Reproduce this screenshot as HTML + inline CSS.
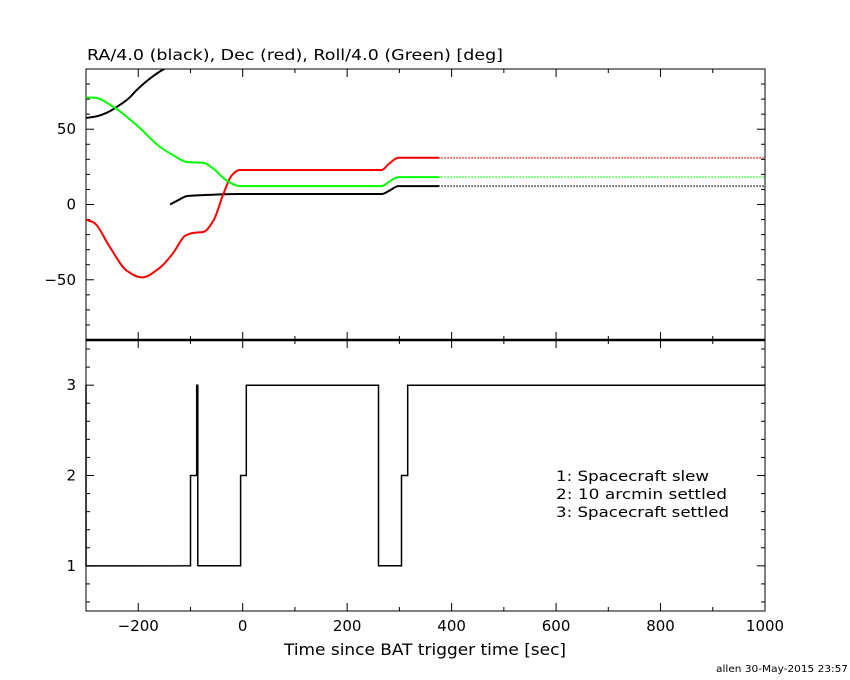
<!DOCTYPE html>
<html><head><meta charset="utf-8"><style>
body{margin:0;background:#fff}
svg{display:block;font-family:"DejaVu Sans","Liberation Sans",sans-serif}
</style></head><body>
<svg id="c" width="850" height="680" viewBox="0 0 850 680">
<rect width="850" height="680" fill="#fff"/>
<g id="g"></g>
<text x="87" y="60" font-size="15" textLength="416" lengthAdjust="spacingAndGlyphs">RA/4.0 (black), Dec (red), Roll/4.0 (Green) [deg]</text>
<text x="284" y="655" font-size="16" textLength="282" lengthAdjust="spacingAndGlyphs">Time since BAT trigger time [sec]</text>
<text x="556" y="481" font-size="14" textLength="153" lengthAdjust="spacingAndGlyphs">1: Spacecraft slew</text>
<text x="556" y="499" font-size="14" textLength="171" lengthAdjust="spacingAndGlyphs">2: 10 arcmin settled</text>
<text x="556" y="517" font-size="14" textLength="173" lengthAdjust="spacingAndGlyphs">3: Spacecraft settled</text>
<text x="716" y="672" font-size="10" textLength="132" lengthAdjust="spacingAndGlyphs">allen 30-May-2015 23:57</text>
</svg>
<script>
const raT1=[-300,-280,-260,-240,-220,-200,-180,-160,-145];
const raV1=[57.5,58.5,61,65,70,77,83,88,91];
const raT2=[-139,-120,-107,-67,-9,266,280,298,375];
const raV2=[0,3.5,5.6,6.4,7,7,9,12.2,12.2];
const decT=[-300,-285,-254,-222,-193,-158,-133,-110,-97,-75,-56,-37,-21,-6,266,280,298,375];
const decV=[-10,-12,-28.4,-44,-48.4,-41.8,-32.2,-20.7,-19,-18.2,-10.7,7.1,19.3,22.9,22.9,27,31,31];
const rollT=[-300,-285,-248,-203,-158,-133,-107,-75,-56,-31,-6,266,280,298,375];
const rollV=[71,71,64.9,52.7,38.2,32.7,28.2,27.6,23.8,16,12.2,12.2,15,18.2,18.2];
const dotEnd=[375,1000];
const raDot=12.2, decDot=31, rollDot=18.2;
const stepT=[-300,-100,-88,-86,-4,7,260,304,316,1000];
const stepV=[1,2,3,1,2,3,1,2,3,3];
const xTicks=[-200,0,200,400,600,800,1000];
const yTopTicks=[-50,0,50];
const yBotTicks=[1,2,3];

const L=86,R=765,T1=69,B1=340,B2=611;
const X=t=>L+(t+300)/1300*(R-L);
const Y1=v=>T1+(90-v)/180*(B1-T1);
const Y2=v=>B1+(3.5-v)/3*(B2-B1);
const NS="http://www.w3.org/2000/svg";
const g=document.getElementById('g');
function mk(tag,attrs){const e=document.createElementNS(NS,tag);for(const k in attrs)e.setAttribute(k,attrs[k]);g.appendChild(e);return e;}
function line(x1,y1,x2,y2,w){return mk('line',{x1,y1,x2,y2,stroke:'#000','stroke-width':w||1});}

const defs=document.createElementNS(NS,'defs');
defs.innerHTML='<clipPath id="cp"><rect x="'+L+'" y="'+T1+'" width="'+(R-L)+'" height="'+(B1-T1)+'"/></clipPath>';
g.appendChild(defs);

let f=mk('rect',{x:L,y:T1,width:R-L,height:B2-T1,fill:'none',stroke:'#000','stroke-width':1});


let d=line(L,B1,R,B1,2.5);



for(let t=-300;t<=1000;t+=100){
  const x=X(t);const len=(t%200===0)?8:4;
  [T1,B1].forEach(y=>line(x,y,x,y+len));
  [B1,B2].forEach(y=>line(x,y,x,y-len));
}
xTicks.forEach(t=>{
  const e=mk('text',{x:X(t),y:B2+20,'font-size':15,'text-anchor':'middle'});
  e.textContent=t<0?'\u2212'+(-t):String(t);
  
  
});
for(let v=-90;v<=90;v+=10){
  const y=Y1(v);const len=(v%50===0)?8:4;
  line(L,y,L+len,y);line(R,y,R-len,y);
}
yTopTicks.forEach(v=>{
  const e=mk('text',{x:76,y:Y1(v)+5,'font-size':15,'text-anchor':'end'});
  e.textContent=v<0?'\u2212'+(-v):String(v);
  
  
});
for(let i=3;i<=17;i++){
  const v=i/5;const y=Y2(v);const len=(i%5===0)?8:4;
  line(L,y,L+len,y);line(R,y,R-len,y);
}
yBotTicks.forEach(v=>{
  const e=mk('text',{x:76,y:Y2(v)+5,'font-size':15,'text-anchor':'end'});
  e.textContent=String(v);
  
  
});

// monotone cubic (Fritsch-Carlson)
function monotone(p){
  const n=p.length;const dx=[],m=[],t=[];
  for(let i=0;i<n-1;i++){dx[i]=p[i+1][0]-p[i][0];m[i]=(p[i+1][1]-p[i][1])/dx[i];}
  t[0]=m[0];t[n-1]=m[n-2];
  for(let i=1;i<n-1;i++){
    if(m[i-1]*m[i]<=0)t[i]=0;
    else{const w1=2*dx[i]+dx[i-1],w2=dx[i]+2*dx[i-1];t[i]=(w1+w2)/(w1/m[i-1]+w2/m[i]);}
  }
  let s='M'+p[0][0].toFixed(1)+','+p[0][1].toFixed(1);
  for(let i=0;i<n-1;i++){
    const h=dx[i]/3;
    s+='C'+(p[i][0]+h).toFixed(1)+','+(p[i][1]+t[i]*h).toFixed(1)+' '+(p[i+1][0]-h).toFixed(1)+','+(p[i+1][1]-t[i+1]*h).toFixed(1)+' '+p[i+1][0].toFixed(1)+','+p[i+1][1].toFixed(1);
  }
  return s;
}
function path(ts,vs,col,w,name,dash){
  const pts=ts.map((t,i)=>[X(t),Y1(vs[i])]);
  const a={d:dash?('M'+pts[0]+'L'+pts[1]):monotone(pts),fill:'none',stroke:col,'stroke-width':w,'clip-path':'url(#cp)','stroke-linejoin':'round'};
  if(dash)a['stroke-dasharray']=dash;
  const e=mk('path',a);
  
  
}
path(raT1,raV1,'#000',2,'ra-line-1');
path(raT2,raV2,'#000',2,'ra-line-2');
path(decT,decV,'#f00',2,'dec-line');
path(rollT,rollV,'#0f0',2,'roll-line');
path(dotEnd,[decDot,decDot],'#f00',2,'dec-dotted','1 2');
path(dotEnd,[rollDot,rollDot],'#0f0',2,'roll-dotted','1 2');
path(dotEnd,[raDot,raDot],'#000',2,'ra-dotted','1 2');

let sp='M'+X(stepT[0])+','+Y2(3)+'L'+X(stepT[0])+','+Y2(stepV[0]);
for(let i=0;i<stepT.length-1;i++){
  sp+='L'+X(stepT[i+1]).toFixed(1)+','+Y2(stepV[i]).toFixed(1);
  sp+='L'+X(stepT[i+1]).toFixed(1)+','+Y2(stepV[i+1]).toFixed(1);
}
const st=mk('path',{d:sp,fill:'none',stroke:'#000','stroke-width':1.5});


</script>
</body></html>
